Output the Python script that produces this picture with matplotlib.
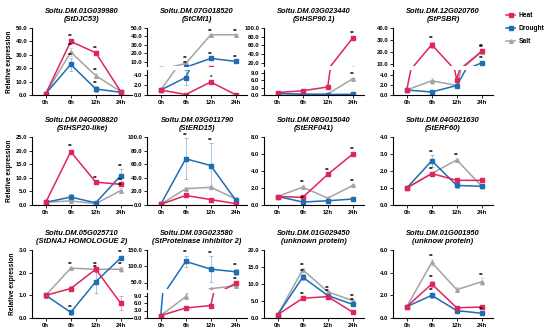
import matplotlib
matplotlib.use('Agg')
import matplotlib.pyplot as plt
from matplotlib.lines import Line2D
from matplotlib.ticker import FormatStrFormatter

plt.rcParams['font.family'] = ['Liberation Sans', 'DejaVu Sans']
plt.rcParams['font.weight'] = 'bold'

times = ['0h', '6h', '12h', '24h']
titles = ['Soltu.DM.01G039980\n(StDJC53)', 'Soltu.DM.07G018520\n(StCMI1)',
          'Soltu.DM.03G023440\n(StHSP90.1)', 'Soltu.DM.12G020760\n(StPSBR)',
          'Soltu.DM.04G008820\n(StHSP20-like)', 'Soltu.DM.03G011790\n(StERD15)',
          'Soltu.DM.08G015040\n(StERF041)', 'Soltu.DM.04G021630\n(StERF60)',
          'Soltu.DM.05G025710\n(StDNAJ HOMOLOGUE 2)', 'Soltu.DM.03G023580\n(StProteinase inhibitor 2)',
          'Soltu.DM.01G029450\n(unknown protein)', 'Soltu.DM.01G001950\n(unknow protein)']

heat = [[1.0, 40.0, 31.5, 2.5], [1.0, 0.1, 2.6, 0.05], [1.0, 1.7, 3.2, 77.0], [1.0, 26.0, 3.1, 20.5],
        [1.0, 19.6, 8.4, 7.6], [1.0, 14.0, 8.0, 2.0], [1.0, 0.9, 3.6, 6.0], [1.0, 1.85, 1.45, 1.45],
        [1.0, 1.3, 2.15, 0.65], [1.0, 4.0, 5.0, 48.0], [1.0, 5.8, 6.3, 1.7], [1.0, 3.0, 0.9, 0.97]]
drought = [[1.0, 22.8, 4.5, 2.0], [1.0, 3.5, 14.0, 10.5], [0.6, 0.3, 0.2, 0.3], [1.0, 0.6, 1.9, 10.7],
           [1.0, 2.9, 0.8, 10.8], [1.0, 68.0, 58.0, 7.0], [1.0, 0.35, 0.5, 0.7], [1.0, 2.6, 1.15, 1.1],
           [1.0, 0.25, 1.6, 2.65], [1.0, 115.0, 91.0, 83.0], [1.0, 12.0, 6.6, 4.0], [1.0, 2.0, 0.65, 0.42]]
salt = [[1.0, 32.0, 14.5, 2.5], [1.0, 8.0, 42.0, 42.0], [0.7, 0.3, 0.4, 6.5], [1.0, 2.85, 1.9, 20.0],
        [1.0, 1.5, 0.5, 5.3], [1.0, 24.0, 26.0, 9.0], [1.0, 2.1, 0.8, 2.3], [1.0, 1.85, 2.65, 1.1],
        [1.0, 2.2, 2.15, 2.15], [1.0, 8.5, 31.0, 40.0], [1.0, 14.2, 7.7, 5.1], [1.0, 4.9, 2.5, 3.2]]

heat_err = [[0.5, 1.5, 1, 0.5], [0.1, 0.1, 0.3, 0.05], [0.2, 0.2, 0.3, 3], [0.2, 2.5, 0.3, 1.5],
            [0.3, 0.8, 0.5, 0.5], [0.3, 1, 1, 0.5], [0.1, 0.1, 0.15, 0.2], [0.1, 0.1, 0.1, 0.1],
            [0.1, 0.1, 0.1, 0.3], [0.3, 0.4, 0.3, 4], [0.1, 0.4, 0.3, 0.2], [0.1, 0.3, 0.1, 0.1]]
drought_err = [[0.5, 5, 2, 0.5], [0.1, 1.5, 1, 1], [0.1, 0.1, 0.1, 0.1], [0.1, 0.1, 0.2, 1],
               [0.2, 1, 0.3, 2.5], [0.5, 30, 33, 1], [0.1, 0.1, 0.05, 0.05], [0.1, 0.35, 0.15, 0.1],
               [0.1, 0.1, 0.5, 0.1], [0.2, 18, 40, 10], [0.1, 0.8, 0.4, 0.3], [0.1, 0.2, 0.1, 0.1]]
salt_err = [[0.5, 3, 2, 0.5], [0.1, 3, 1, 1], [0.1, 0.1, 0.1, 0.5], [0.1, 0.6, 0.2, 1],
            [0.2, 0.5, 0.2, 1], [0.5, 2, 2, 1], [0.2, 0.2, 0.1, 0.2], [0.1, 0.1, 0.1, 0.15],
            [0.1, 0.05, 0.1, 0.1], [0.3, 0.5, 2, 2], [0.1, 0.5, 0.3, 0.3], [0.1, 0.3, 0.2, 0.3]]

heat_sig = [['', '**', '**', ''], ['', '', '*', ''], ['', '', '', '**'], ['', '**', '', '**'],
            ['', '**', '**', '**'], ['', '', '', ''], ['', '', '**', '**'], ['', '**', '', ''],
            ['', '', '**', ''], ['', '', '', '**'], ['', '**', '', ''], ['', '**', '', '']]
drought_sig = [['', '**', '**', ''], ['', '**', '**', '**'], ['', '', '', ''], ['', '', '', '**'],
               ['', '', '', '**'], ['', '**', '**', ''], ['', '**', '', ''], ['', '**', '', ''],
               ['', '**', '**', '**'], ['', '**', '**', '**'], ['', '**', '**', '**'], ['', '**', '', '**']]
salt_sig = [['', '**', '**', ''], ['', '**', '**', '**'], ['', '', '', '**'], ['', '', '', '**'],
            ['', '', '', '**'], ['', '', '', ''], ['', '**', '', '**'], ['', '', '**', ''],
            ['', '**', '', '**'], ['', '', '', ''], ['', '**', '**', '**'], ['', '**', '', '**']]

y_max = [50, 50, 100, 40, 25, 100, 8, 4, 3, 150, 20, 6]
y_step = [10, 10, 20, 10, 5, 20, 2, 1, 1, 50, 5, 2]
# broken axes: (top of lower part, bottom of upper part, lower tick step)
breaks = {1: (5, 5, 2), 2: (10, 12, 3), 3: (5, 8, 2), 9: (10, 30, 3)}

colors = {'Heat': '#E0245E', 'Drought': '#1F6DB4', 'Salt': '#A3A3A3'}
markers = {'Heat': 's', 'Drought': 's', 'Salt': '^'}

W, H = 550, 334
fig = plt.figure(figsize=(W / 100, H / 100), dpi=100)

col_left = [32, 147, 264, 393]
ax_w = 100
rows = [(28, 95), (137, 205), (250, 318)]


def px(l, t, w, h):
    return [l / W, 1 - (t + h) / H, w / W, h / H]


def style(ax):
    for s in ['top', 'right']:
        ax.spines[s].set_visible(False)
    for s in ['left', 'bottom']:
        ax.spines[s].set_linewidth(0.8)
    ax.tick_params(axis='both', labelsize=4.2, length=2, width=0.6, pad=1.5)
    ax.set_xlim(-0.55, 3.45)
    ax.yaxis.set_major_formatter(FormatStrFormatter('%.1f'))


def draw(ax, i, lo, hi):
    series = [('Salt', salt, salt_err, salt_sig), ('Drought', drought, drought_err, drought_sig),
              ('Heat', heat, heat_err, heat_sig)]
    for name, vals, errs, sigs in series:
        eb = ax.errorbar(range(4), vals[i], yerr=errs[i], color=colors[name], marker=markers[name],
                         ms=2.6, lw=1.1, elinewidth=0.5, capsize=1.2, capthick=0.5)
        for part in list(eb[1]) + list(eb[2]):
            part.set_alpha(0.55)
        for j in range(4):
            top = vals[i][j] + errs[i][j]
            if sigs[i][j] and lo <= top < hi:
                ax.annotate(sigs[i][j], (j, top), xytext=(0, 0.2), textcoords='offset points',
                            ha='center', va='bottom', fontsize=4.3, fontweight='bold')


for i in range(12):
    r, c = divmod(i, 4)
    top, bot = rows[r]
    left = col_left[c]
    if i in breaks:
        low_top, up_bot, low_step = breaks[i]
        low_h = 25
        gap = 4
        ax = fig.add_axes(px(left, bot - low_h, ax_w, low_h))
        axu = fig.add_axes(px(left, top, ax_w, bot - low_h - gap - top))
        style(ax)
        style(axu)
        ax.set_ylim(0, low_top)
        ax.set_yticks([v for v in range(0, low_top + 1, low_step) if v < low_top])
        axu.set_ylim(up_bot, y_max[i])
        axu.set_yticks([v for v in range(y_step[i], y_max[i] + 1, y_step[i]) if v >= up_bot])
        axu.spines['bottom'].set_visible(False)
        axu.set_xticks([])
        draw(ax, i, 0, low_top)
        draw(axu, i, low_top, 1e9)
        tax = axu
    else:
        ax = fig.add_axes(px(left, top, ax_w, bot - top))
        style(ax)
        ax.set_ylim(0, y_max[i])
        ax.set_yticks(range(0, y_max[i] + 1, y_step[i]))
        draw(ax, i, 0, 1e9)
        tax = ax
    ax.set_xticks(range(4))
    ax.set_xticklabels(times)
    tax.set_title(titles[i], fontsize=5.4, fontweight='bold', style='italic', pad=5, linespacing=1.15)
    if c == 0:
        ax.set_ylabel('Relative expression', fontsize=4.8, fontweight='bold', labelpad=2)

handles = [Line2D([], [], color=colors[n], marker=markers[n], ms=2.6, lw=1.1) for n in ['Heat', 'Drought', 'Salt']]
fig.legend(handles, ['Heat', 'Drought', 'Salt'], loc='upper left', bbox_to_anchor=(500 / W, 1 - 6 / H),
           frameon=False, fontsize=4.8, handlelength=1.4, handletextpad=0.5, labelspacing=0.9)

fig.savefig('out.png', dpi=100)
